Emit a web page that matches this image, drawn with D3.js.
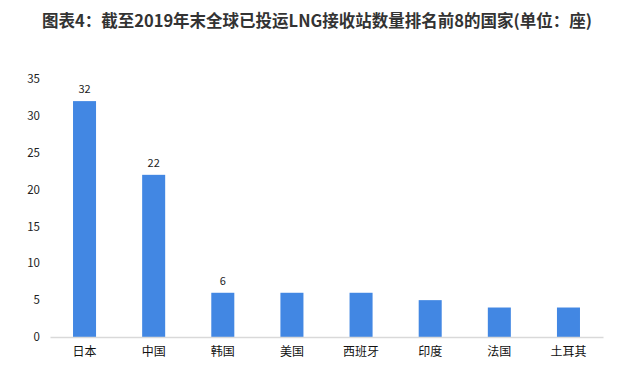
<!DOCTYPE html>
<html>
<head>
<meta charset="utf-8">
<script src="https://cdn.jsdelivr.net/npm/d3@7"></script>
<style>
  body { margin: 0; background: #fff; }
  text { font-family: "Noto Sans CJK SC", "Noto Sans", sans-serif; }
</style>
</head>
<body>
<script>
// base data
const countries = ['日本', '中国', '韩国', '美国', '西班牙', '印度', '法国', '土耳其'];
const counts = [32, 22, 6, 6, 6, 5, 4, 4];
const labelled = ['日本', '中国', '韩国'];
const yTicks = [0, 5, 10, 15, 20, 25, 30, 35];
const titleText = '图表4：截至2019年末全球已投运LNG接收站数量排名前8的国家(单位：座)';

// constants
const width = 630;
const height = 386;
const margin = { top: 79, bottom: 49, left: 50, right: 27 };

const data = countries.map((c, i) => ({ country: c, value: counts[i] }));

const svg = d3.select('body').append('svg')
  .attr('width', width).attr('height', height);

// scales
const xScale = d3.scaleBand()
  .domain(countries)
  .range([margin.left, width - margin.right])
  .paddingInner(0.667)
  .paddingOuter(0.333);

const yScale = d3.scaleLinear()
  .domain([0, 35])
  .range([height - margin.bottom, margin.top]);

// y axis labels (no line, no ticks)
const yAxis = svg.append('g')
  .attr('transform', `translate(${margin.left - 10}, 0)`)
  .call(d3.axisLeft(yScale).tickValues(yTicks).tickSize(0).tickPadding(0));
yAxis.select('.domain').remove();
yAxis.selectAll('text').attr('font-size', 11.5).attr('fill', '#222')
  .attr('font-family', '"Noto Sans", sans-serif');

// bars
svg.append('g').selectAll('rect').data(data).enter().append('rect')
  .attr('x', d => xScale(d.country))
  .attr('y', d => yScale(d.value))
  .attr('width', xScale.bandwidth())
  .attr('height', d => yScale(0) - yScale(d.value))
  .attr('fill', '#4287e3');

// x axis
const xAxis = svg.append('g')
  .attr('transform', `translate(0, ${yScale(0)})`)
  .call(d3.axisBottom(xScale).tickSize(0).tickPadding(10));
xAxis.select('.domain').attr('stroke', '#d9d9d9').attr('stroke-width', 1.5);
xAxis.selectAll('text').attr('font-size', 12).attr('fill', '#111')
  .attr('font-family', '"Noto Sans CJK SC", sans-serif');

// value labels
svg.append('g').selectAll('text')
  .data(data.filter(d => labelled.includes(d.country))).enter().append('text')
  .attr('x', d => xScale(d.country) + xScale.bandwidth() / 2)
  .attr('y', d => yScale(d.value) - 8)
  .attr('text-anchor', 'middle')
  .attr('font-size', 11)
  .attr('fill', '#222')
  .attr('font-family', '"Noto Sans", sans-serif')
  .text(d => d.value);

// title
svg.append('text')
  .attr('x', width / 2 + 2).attr('y', 27)
  .attr('text-anchor', 'middle')
  .attr('font-size', 16.5)
  .attr('font-weight', 'bold')
  .attr('fill', '#333')
  .text(titleText);
</script>
</body>
</html>
